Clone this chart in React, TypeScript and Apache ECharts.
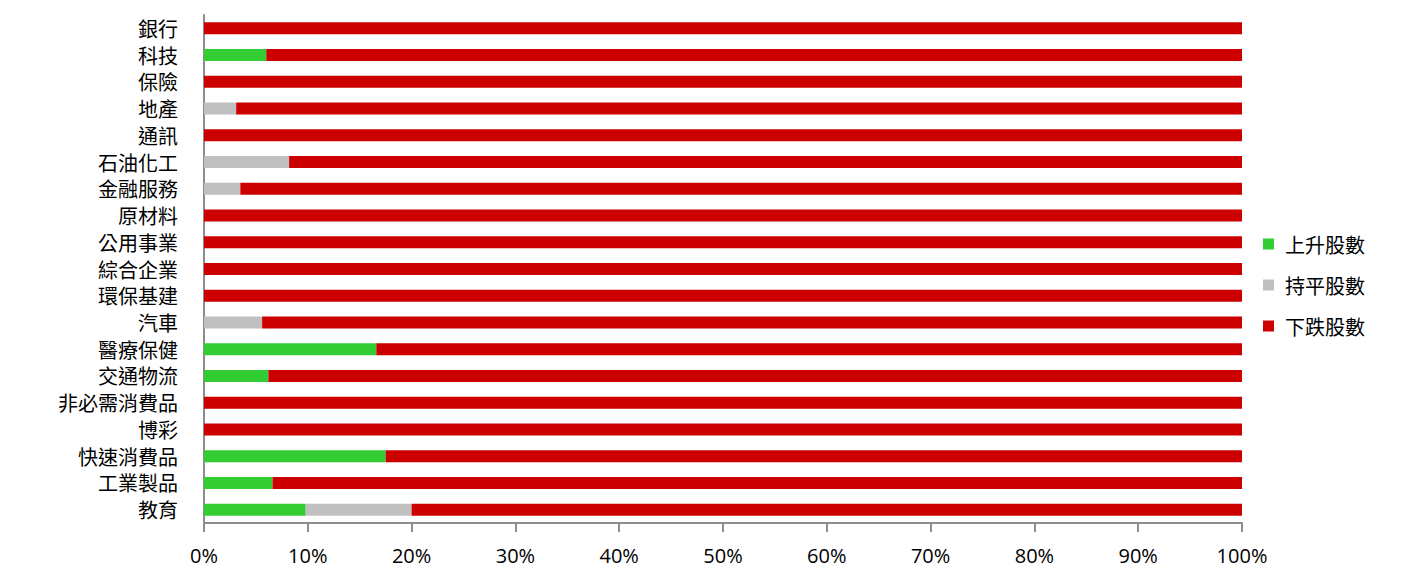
import React, { useEffect, useRef } from "react";
import * as echarts from "echarts";

const categories = [
  "銀行", "科技", "保險", "地產", "通訊", "石油化工", "金融服務", "原材料", "公用事業",
  "綜合企業", "環保基建", "汽車", "醫療保健", "交通物流", "非必需消費品", "博彩",
  "快速消費品", "工業製品", "教育",
];
const upShare = [0, 6.0, 0, 0, 0, 0, 0, 0, 0, 0, 0, 0, 16.6, 6.2, 0, 0, 17.5, 6.6, 9.8];
const flatShare = [0, 0, 0, 3.1, 0, 8.2, 3.5, 0, 0, 0, 0, 5.6, 0, 0, 0, 0, 0, 0, 10.2];
const downShare = [100, 94.0, 100, 96.9, 100, 91.8, 96.5, 100, 100, 100, 100, 94.4, 83.4, 93.8, 100, 100, 82.5, 93.4, 80.0];
const seriesNames = ["上升股數", "持平股數", "下跌股數"];
const xTicks = [0, 10, 20, 30, 40, 50, 60, 70, 80, 90, 100];

export default function App() {
  const ref = useRef<HTMLDivElement>(null);
  useEffect(() => {
    if (!ref.current) return;
    const chart = echarts.init(ref.current, null, { renderer: "svg" });
    const cjk = '"Noto Sans CJK TC", "Noto Sans CJK SC", sans-serif';
    const colors = ["#33CC33", "#C0C0C0", "#CC0000"];
    const datas = [upShare, flatShare, downShare];
    chart.setOption({
      animation: false,
      grid: { left: 204, right: 159, top: 15, bottom: 46, containLabel: false },
      legend: {
        orient: "vertical",
        left: 1258,
        top: 229,
        itemWidth: 11,
        itemHeight: 11,
        itemGap: 21,
        icon: "rect",
        data: seriesNames,
        textStyle: { fontFamily: cjk, fontSize: 20, color: "#000", padding: [0, 0, 0, 6] },
      },
      xAxis: {
        type: "value",
        min: 0,
        max: 100,
        interval: 10,
        axisLine: { show: true, lineStyle: { color: "#8c8c8c", width: 2 } },
        axisTick: { show: true, length: 9, lineStyle: { color: "#8c8c8c", width: 2 } },
        splitLine: { show: false },
        axisLabel: {
          margin: 22,
          fontSize: 20,
          lineHeight: 20,
          color: "#000",
          fontFamily: '"Open Sans", "DejaVu Sans", sans-serif',
          formatter: (v: number) => (xTicks.includes(v) ? v + "%" : ""),
        },
      },
      yAxis: {
        type: "category",
        data: categories,
        inverse: true,
        axisLine: { show: true, lineStyle: { color: "#8c8c8c", width: 2 } },
        axisTick: { show: false },
        axisLabel: { margin: 26, fontSize: 20, color: "#000", fontFamily: cjk },
      },
      series: seriesNames.map((name, i) => ({
        name,
        type: "bar",
        stack: "total",
        barWidth: 12,
        itemStyle: { color: colors[i] },
        data: datas[i],
      })),
    });
    return () => chart.dispose();
  }, []);
  return (
    <div
      ref={ref}
      style={{ position: "absolute", left: 0, top: 0, width: 1401, height: 569 }}
    />
  );
}
